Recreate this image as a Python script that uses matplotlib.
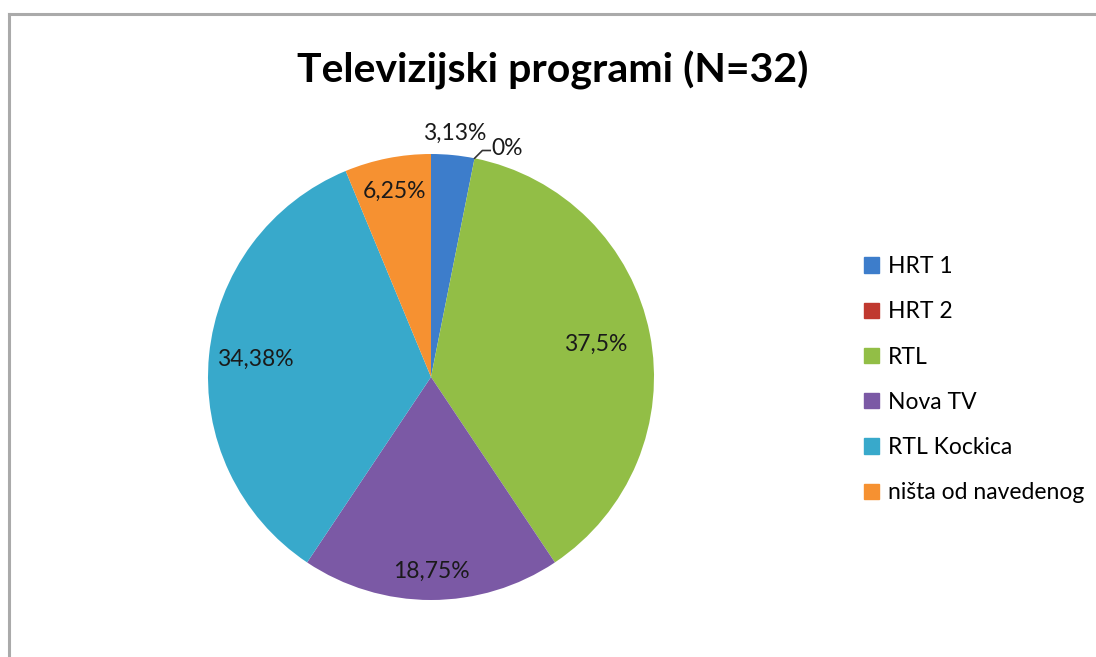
import numpy as np
import matplotlib
matplotlib.use("Agg")
import matplotlib.pyplot as plt
from matplotlib.lines import Line2D

categories = ["HRT 1", "HRT 2", "RTL", "Nova TV", "RTL Kockica", "ništa od navedenog"]
values = [3.13, 0.0, 37.5, 18.75, 34.38, 6.25]
labels = ["3,13%", "0%", "37,5%", "18,75%", "34,38%", "6,25%"]
colors = ["#3D7DCB", "#C0392F", "#92BE46", "#7B59A5", "#38A9CB", "#F69131"]
title = "Televizijski programi (N=32)"

plt.rcParams['font.family'] = ['Lato', 'DejaVu Sans']

W, H = 1096, 657
fig = plt.figure(figsize=(W / 100, H / 100), dpi=100)

# border lines (top and left)
fig.add_artist(Line2D([8.5 / W, 8.5 / W], [0, 1 - 13.5 / H], transform=fig.transFigure,
                      color="#AAAAAA", lw=2.2))
fig.add_artist(Line2D([8.5 / W, 1], [1 - 13.5 / H, 1 - 13.5 / H], transform=fig.transFigure,
                      color="#AAAAAA", lw=2.2))

cx, cy, r = 431, 377, 223
ax = fig.add_axes([(cx - r) / W, (H - cy - r) / H, 2 * r / W, 2 * r / H])
ax.axis("off")

wedges, _ = ax.pie(values, colors=colors, startangle=90, counterclock=False, radius=1,
                   wedgeprops=dict(linewidth=0))
ax.set_xlim(-1, 1)
ax.set_ylim(-1, 1)
ax.set_aspect("equal")

label_r = [1.10, None, 0.755, 0.87, 0.79, 0.85]
total = sum(values)
start = 90.0
fs = 16.5
for i, (v, lab) in enumerate(zip(values, labels)):
    ang = start - v / total * 360 / 2
    end = start - v / total * 360
    if label_r[i] is None:
        # leader line for zero slice
        a = np.deg2rad(end)
        x0, y0 = np.cos(a), np.sin(a)
        ax.plot([x0, x0 + 0.035, x0 + 0.07], [y0, y0 + 0.035, y0 + 0.035],
                color="#333333", lw=1.2, clip_on=False)
        ax.text(x0 + 0.075, y0 + 0.045, lab, ha="left", va="center", fontsize=fs,
                color="#1a1a1a")
    else:
        a = np.deg2rad(ang)
        ax.text(label_r[i] * np.cos(a), label_r[i] * np.sin(a), lab, ha="center",
                va="center", fontsize=fs, color="#1a1a1a")
    start = end

fig.text(553 / W, 1 - 70 / H, title, ha="center", va="center", fontsize=29.5,
         fontweight="bold", color="#000000")

handles = [plt.Rectangle((0, 0), 1, 1, color=c) for c in colors]
leg = fig.legend(handles, categories, loc="upper left",
                 bbox_to_anchor=(864 / W, 1 - 256 / H), frameon=False,
                 fontsize=16.5, handlelength=0.65, handleheight=0.65,
                 handletextpad=0.4, labelspacing=1.06, borderpad=0, borderaxespad=0)

fig.savefig("out.png", dpi=100, facecolor="white")
